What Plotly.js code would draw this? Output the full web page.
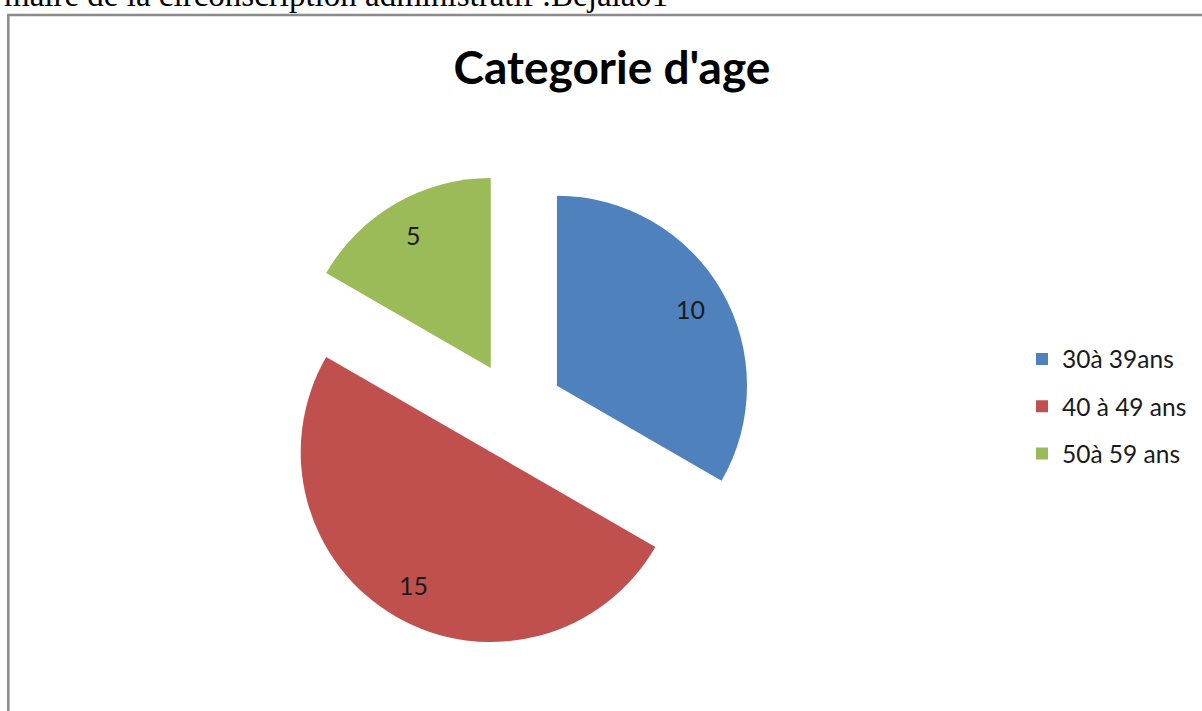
<!DOCTYPE html>
<html>
<head>
<meta charset="utf-8">
<script src="https://cdn.plot.ly/plotly-3.0.1.min.js"></script>
<style>
html,body{margin:0;padding:0;background:#fff;}
#chart{width:1202px;height:711px;}
</style>
</head>
<body>
<div id="chart"></div>
<script>
// ---- data ----
const categories = ["30à 39ans", "40 à 49 ans", "50à 59 ans"];
const counts = [10, 15, 5];
const sliceColors = ["#4F81BD", "#C0504D", "#9BBB59"];
const chartTitle = "Categorie d'age";
const headerText = "maire de la circonscription administratif :Bejaia01";

// ---- layout constants ----
const W = 1202, H = 711;
const pull = 0.255;
const domX = [0.2300, 0.6269];
const domY = [0.0879, 0.7588];
const labelRadius = 0.81; // fraction of radius beyond pull offset

// label positions computed from the data (slice bisectors)
const total = counts.reduce((a, b) => a + b, 0);
const boxW = W * (domX[1] - domX[0]);
const boxH = H * (domY[1] - domY[0]);
const r = Math.min(boxW, boxH) / 2 / (1 + pull);
const cx = (domX[0] + domX[1]) / 2;
const cy = (domY[0] + domY[1]) / 2;
let cum = 0;
const sliceAnnotations = counts.map((v) => {
  const mid = (cum + v / 2) / total;
  cum += v;
  const th = mid * 2 * Math.PI;
  const d = (pull + labelRadius) * r;
  return {
    x: cx + d * Math.sin(th) / W,
    y: cy + d * Math.cos(th) / H,
    xref: 'paper', yref: 'paper',
    text: String(v),
    showarrow: false,
    font: {family: 'Lato, sans-serif', size: 25, color: '#1a1a1a'},
    xanchor: 'center', yanchor: 'middle'
  };
});

const trace = {
  type: 'pie',
  labels: categories.map(c => "<span style='font-size:24.5px;baseline-shift:4.5px'>" + c + "</span>"),
  values: counts,
  sort: false,
  direction: 'clockwise',
  rotation: 0,
  pull: counts.map(() => pull),
  marker: {colors: sliceColors, line: {width: 0}},
  textinfo: 'none',
  hoverinfo: 'label+value',
  domain: {x: domX, y: domY}
};

const layout = {
  width: W, height: H,
  margin: {l: 0, r: 0, t: 0, b: 0},
  paper_bgcolor: '#ffffff',
  title: {
    text: chartTitle,
    font: {family: 'Lato, sans-serif', size: 46, color: '#000000', weight: 'bold'},
    x: 612 / W, xanchor: 'center',
    y: 1 - 68 / H, yanchor: 'middle'
  },
  showlegend: true,
  legend: {
    x: 1022 / W, xanchor: 'left',
    y: 1 - 406.5 / H, yanchor: 'middle',
    font: {family: 'Lato, sans-serif', size: 34, color: '#1a1a1a'},
    bgcolor: 'rgba(0,0,0,0)',
    traceorder: 'normal'
  },
  shapes: [{
    type: 'rect', xref: 'paper', yref: 'paper',
    x0: 8.3 / W, x1: 1.05, y0: -0.05, y1: 1 - 15 / H,
    line: {color: '#8a8a8a', width: 2.5}, fillcolor: 'rgba(0,0,0,0)'
  }],
  annotations: sliceAnnotations.concat([{
    x: 2 / W, y: 1 + 5 / H, xref: 'paper', yref: 'paper',
    xanchor: 'left', yanchor: 'middle', showarrow: false,
    text: headerText,
    font: {family: 'Liberation Serif, Times New Roman, serif', size: 33, color: '#000000'}
  }])
};

Plotly.newPlot('chart', [trace], layout, {displayModeBar: false, staticPlot: true});
</script>
</body>
</html>
